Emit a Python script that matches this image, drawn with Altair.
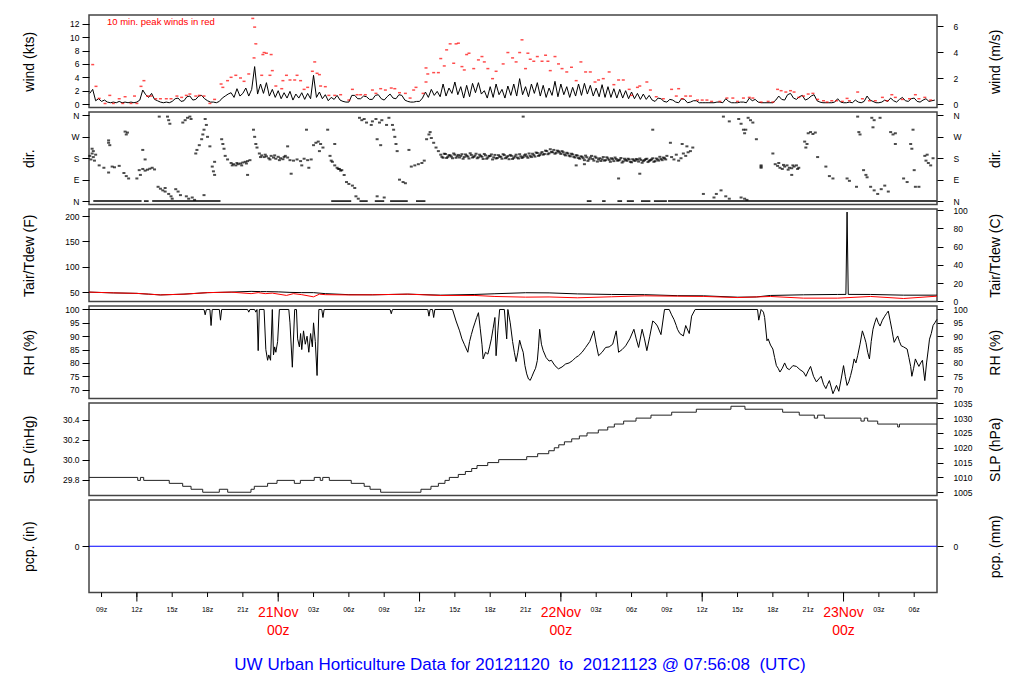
import altair as alt
import pandas as pd

FONT = "Liberation Sans"
# time axis: hours since 20 Nov 2012 00z; window ends 23 Nov 07:56:08 UTC
T_START = 7.9356
T_END = 79.9356
W = 848
H = 92.5

# ---------------- wind (kts), every 15 min from 08z 20 Nov ----------------
WIND_T0 = 8.0
WIND_DT = 0.25
wind_kts = [
    1.6, 2.2, 0.5, 0.8, 0.4, 0.6, 0.3, 0.2, 0.3, 0.2, 0.4, 0.2, 0.3, 0.2, 0.3, 0.2,   # 08-11
    0.3, 0.6, 2.1, 1.4, 1.0, 1.6, 0.7, 0.5, 0.3, 0.2, 0.3, 0.2, 0.4, 0.8, 0.9, 0.4,   # 12-15
    0.5, 1.1, 1.2, 0.6, 0.7, 1.2, 1.3, 0.8, 0.5, 0.3, 0.3, 0.2, 0.4, 0.9, 1.2, 1.5,   # 16-19
    1.7, 1.0, 2.3, 1.2, 1.6, 2.4, 1.2, 2.2, 5.6, 1.5, 3.0, 1.6, 3.2, 1.2, 2.2, 1.0,   # 20-23
    2.0, 0.8, 1.7, 0.9, 1.9, 0.6, 1.5, 0.9, 1.7, 0.7, 1.6, 0.8, 4.3, 1.0, 1.8, 0.8,   # 24-27
    1.4, 0.5, 1.0, 0.7, 1.3, 0.6, 0.4, 0.3, 0.3, 1.3, 1.3, 0.8, 0.8, 1.2, 1.1, 0.7,   # 28-31
    0.7, 1.3, 1.4, 0.8, 0.6, 1.1, 1.5, 0.9, 0.8, 1.4, 1.3, 0.6, 0.4, 0.3, 0.3, 0.4,   # 32-35
    0.4, 0.9, 1.8, 1.0, 2.2, 1.3, 1.9, 1.1, 3.0, 1.2, 2.4, 1.6, 3.3, 1.4, 2.6, 0.9,   # 36-39
    2.8, 1.1, 3.1, 1.7, 3.2, 1.5, 2.0, 0.9, 2.6, 1.0, 3.0, 1.4, 2.2, 0.9, 2.7, 1.3,   # 40-43
    3.0, 1.2, 3.8, 1.4, 2.6, 1.1, 3.0, 1.6, 3.2, 1.2, 2.8, 1.0, 2.4, 1.3, 3.4, 1.1,   # 44-47
    3.0, 1.4, 2.6, 1.0, 2.5, 1.2, 3.0, 1.3, 3.1, 1.5, 2.8, 1.2, 2.4, 1.1, 2.9, 1.0,   # 48-51
    2.6, 1.0, 2.3, 0.9, 2.2, 0.9, 2.0, 0.8, 1.8, 0.8, 1.6, 0.7, 1.5, 0.7, 1.3, 0.6,   # 52-55
    0.4, 0.9, 0.8, 0.4, 0.3, 0.7, 0.6, 0.3, 0.2, 0.8, 0.7, 0.2, 0.3, 0.5, 0.5, 0.2,   # 56-59
    0.2, 0.2, 0.2, 0.2, 0.2, 0.3, 0.3, 0.2, 0.8, 0.4, 0.2, 0.2, 0.2, 0.3, 0.3, 0.2,   # 60-63
    0.9, 0.5, 0.7, 0.3, 0.2, 0.2, 0.2, 0.2, 0.2, 0.6, 1.2, 0.7, 0.6, 1.4, 1.6, 0.9,   # 64-67
    0.7, 1.1, 1.3, 0.6, 0.8, 1.2, 1.4, 0.5, 0.3, 0.2, 0.2, 0.2, 0.2, 0.3, 0.8, 0.3,   # 68-71
    0.2, 0.2, 0.3, 0.2, 0.6, 0.3, 0.2, 0.4, 1.2, 0.6, 0.4, 0.2, 0.2, 0.3, 0.6, 0.4,   # 72-75
    0.9, 0.5, 0.3, 0.7, 1.0, 0.5, 0.4, 0.8, 0.9, 0.4, 0.3, 0.6, 0.8, 0.4, 0.5, 0.6]   # 76-79

# 10-minute peak winds (hour, kts)
peak_pts = [
    (8.25, 5.9), (8.53, 2.65), (8.8, 0.85), (9.3, 0.1), (9.7, 1.3), (10.0, 0.1), (10.5, 0.8),
    (10.8, 0.1), (11.0, 1.1), (11.5, 0.1), (11.8, 1.2), (12.0, 0.1), (12.35, 2.65), (12.6, 3.5),
    (12.9, 1.2), (13.2, 1.2), (13.6, 0.8), (14.0, 0.8), (14.5, 0.8), (14.9, 0.8), (15.4, 1.2),
    (15.8, 1.0), (16.2, 1.3), (16.5, 1.5), (17.0, 1.2), (17.3, 1.3), (17.7, 1.2), (18.2, 0.1),
    (18.6, 0.7), (19.15, 3.0), (19.3, 2.5), (19.7, 3.5), (20.0, 4.0), (20.4, 4.3), (20.8, 3.9),
    (21.1, 3.4), (21.5, 4.5), (21.84, 12.8), (22.0, 11.5), (22.1, 9.0), (21.95, 6.9), (22.7, 7.4),
    (22.8, 7.7), (23.0, 7.6), (23.4, 7.4), (22.6, 4.3), (23.3, 4.3), (23.5, 5.0), (23.8, 2.7),
    (24.3, 2.3), (24.4, 3.5), (24.7, 4.3), (25.0, 3.6), (25.4, 3.6), (25.6, 4.3), (25.9, 3.5),
    (26.2, 2.2), (26.5, 2.5), (26.9, 4.9), (27.1, 6.3), (27.3, 4.6), (27.5, 4.4), (27.6, 2.7),
    (28.0, 2.6), (28.3, 1.3), (28.8, 1.3), (29.3, 1.4), (30.0, 0.6), (30.3, 2.2), (30.7, 1.4),
    (31.0, 1.4), (31.4, 1.4), (32.0, 2.1), (32.3, 1.6), (32.7, 2.3), (33.1, 2.1), (33.6, 2.4),
    (33.9, 2.3), (34.3, 1.7), (34.8, 1.6), (35.2, 0.9), (35.5, 2.1), (35.7, 2.5), (36.3, 1.6),
    (36.55, 5.4), (36.55, 3.3), (36.7, 4.5), (37.2, 4.7), (37.6, 4.7), (37.8, 6.8), (38.1, 5.7),
    (38.3, 8.1), (38.6, 9.0), (38.9, 6.1), (39.1, 9.0), (39.3, 9.1), (39.6, 5.6), (39.8, 5.1),
    (40.0, 7.4), (40.2, 7.6), (40.6, 5.3), (41.0, 6.6), (41.3, 7.1), (41.5, 6.3), (41.8, 5.3),
    (42.2, 3.8), (42.5, 4.9), (43.1, 6.0), (43.5, 7.7), (43.9, 6.9), (44.2, 6.3), (44.5, 7.7),
    (44.7, 9.6), (45.0, 5.3), (45.2, 7.6), (45.4, 6.7), (45.7, 6.4), (46.0, 7.1), (46.4, 6.4),
    (46.7, 7.3), (46.9, 6.4), (47.1, 5.0), (47.5, 7.1), (47.8, 6.0), (48.1, 5.3), (48.5, 4.8),
    (48.9, 5.5), (49.3, 3.5), (49.7, 6.3), (50.1, 4.8), (50.5, 4.8), (50.9, 3.3), (51.2, 3.6),
    (51.6, 3.8), (52.1, 4.8), (52.5, 2.9), (52.9, 3.6), (53.3, 3.6), (53.8, 2.2), (54.0, 1.3),
    (54.5, 2.5), (54.7, 2.7), (55.3, 3.3), (55.6, 2.1), (56.1, 1.1), (56.7, 0.8), (57.4, 2.2),
    (57.8, 1.2), (58.0, 2.3), (58.3, 0.8), (58.6, 1.2), (59.0, 1.2), (59.6, 0.6), (60.0, 0.6),
    (60.4, 0.6), (60.8, 0.4), (61.5, 0.4), (62.1, 0.9), (62.6, 0.9), (63.0, 0.4), (63.5, 0.9),
    (64.0, 1.0), (64.3, 0.9), (65.0, 0.3), (65.6, 0.4), (66.0, 0.3), (66.4, 2.2), (66.7, 2.0),
    (67.1, 1.8), (67.5, 2.0), (67.8, 1.8), (68.2, 1.0), (68.6, 1.2), (69.0, 1.5), (69.4, 1.6),
    (69.8, 0.7), (70.3, 0.5), (70.6, 0.3), (71.0, 0.5), (71.4, 0.5), (71.9, 0.4), (72.3, 0.85),
    (72.5, 0.5), (73.2, 1.8), (73.6, 0.8), (74.2, 0.5), (74.7, 0.5), (75.3, 1.0), (75.7, 0.5),
    (76.1, 1.4), (76.4, 1.0), (77.0, 0.7), (77.6, 0.8), (78.1, 1.4), (78.4, 0.8), (78.9, 1.0),
    (79.4, 0.6)]

# ---------------- wind direction (hour, degrees) ----------------
dir_pts = [
    (8.0, 190), (8.1, 175), (8.2, 200), (8.3, 185), (8.4, 170), (8.5, 195), (8.3, 210), (8.2, 220),
    (8.8, 150), (9.2, 140), (9.6, 120), (9.6, 255), (9.6, 245), (9.7, 235), (9.9, 145), (10.1, 142),
    (10.5, 148), (10.9, 118), (11.1, 105), (11.3, 95), (11.0, 292), (11.2, 288), (11.1, 280),
    (12.0, 95), (12.2, 130), (12.5, 135), (12.7, 128), (12.9, 132), (13.1, 136), (13.3, 140),
    (13.5, 133), (12.5, 215), (12.7, 175), (12.3, 110), (13.8, 60), (14.0, 52), (14.2, 45),
    (14.4, 40), (14.4, 55), (14.7, 30), (14.9, 20), (15.0, 10), (14.6, 355), (14.7, 340),
    (14.8, 325), (13.9, 355), (15.3, 50), (15.5, 40), (15.7, 25), (15.9, 330), (16.1, 340),
    (16.3, 350), (16.5, 355), (16.6, 345), (16.2, 20), (16.4, 10), (16.7, 15), (16.9, 5),
    (17.0, 200), (17.1, 215), (17.3, 235), (17.5, 260), (17.6, 280), (17.7, 300), (17.9, 320),
    (17.8, 345), (18.0, 270), (18.2, 230), (17.7, 25), (18.4, 145), (18.5, 125), (18.6, 110),
    (18.6, 165), (19.2, 260), (19.3, 240), (19.4, 220), (19.5, 190), (19.7, 175), (20.0, 160),
    (20.2, 155), (20.4, 150), (20.6, 155), (20.8, 158), (21.0, 162), (21.2, 165), (21.4, 168),
    (21.6, 172), (20.1, 150), (20.5, 160), (20.9, 150), (21.3, 158), (21.4, 110), (21.9, 300),
    (22.0, 270), (22.1, 240), (22.2, 225), (22.4, 200), (22.6, 192), (22.8, 185), (23.0, 188),
    (23.2, 180), (23.4, 190), (23.6, 183), (23.8, 178), (24.0, 186), (24.2, 180), (24.4, 176),
    (24.6, 190), (24.8, 183), (22.5, 185), (22.9, 195), (23.3, 175), (23.7, 192), (24.1, 172),
    (24.5, 185), (24.8, 230), (25.0, 172), (25.3, 170), (25.6, 175), (25.9, 168), (26.2, 178),
    (26.5, 172), (26.8, 175), (25.1, 115), (26.0, 150), (26.6, 140), (26.4, 300), (27.0, 235),
    (27.2, 245), (27.4, 250), (27.6, 240), (27.8, 225), (27.5, 210), (28.2, 300), (28.4, 190),
    (28.5, 170), (28.8, 150), (29.0, 140), (29.2, 135), (29.4, 130), (29.6, 110), (28.6, 165),
    (28.8, 240), (29.1, 135), (29.3, 128), (29.8, 80), (30.0, 72), (30.3, 65), (30.5, 55),
    (30.6, 20), (30.8, 10), (30.9, 350), (31.1, 340), (31.3, 345), (31.5, 330), (31.9, 320),
    (32.0, 335), (32.3, 345), (32.6, 330), (32.8, 340), (33.2, 320), (33.4, 350), (32.4, 260),
    (32.7, 235), (32.4, 20), (33.0, 15), (33.7, 320), (33.8, 300), (33.9, 270), (34.0, 240),
    (34.1, 210), (34.3, 90), (34.6, 80), (34.8, 75), (35.1, 215), (35.3, 145), (35.6, 150),
    (35.9, 155), (36.2, 160), (36.4, 170), (36.6, 260), (36.8, 280), (37.0, 265), (37.2, 245),
    (37.4, 225), (37.6, 210), (36.9, 290), (44.8, 355), (49.3, 150), (50.0, 155), (52.9, 95),
    (54.7, 115), (55.8, 300), (57.3, 245), (57.4, 185), (57.6, 175), (57.8, 195), (58.0, 170),
    (58.2, 180), (58.4, 200), (58.6, 190), (58.8, 205), (59.0, 210), (58.3, 240), (58.7, 230),
    (59.2, 225), (60.1, 30), (61.0, 15), (61.2, 30), (61.6, 45), (62.0, 20), (62.3, 10),
    (61.8, 355), (62.3, 335), (63.1, 345), (63.3, 325), (63.5, 300), (63.6, 285), (63.9, 350),
    (64.1, 340), (64.3, 330), (63.7, 300), (63.3, 15), (63.6, 10), (63.8, 5), (64.6, 260),
    (65.0, 150), (65.0, 145), (65.0, 140), (66.0, 200), (66.2, 155), (66.4, 148), (66.6, 140),
    (66.8, 135), (67.0, 145), (67.2, 150), (67.4, 140), (67.6, 138), (67.8, 145), (68.0, 150),
    (68.2, 140), (66.5, 160), (66.9, 152), (67.3, 132), (67.7, 150), (68.1, 135), (67.6, 110),
    (68.7, 250), (68.9, 240), (68.8, 225), (69.0, 285), (69.2, 290), (69.4, 282), (69.6, 288),
    (69.8, 185), (70.5, 145), (70.8, 105), (71.1, 95), (72.3, 95), (72.5, 85), (73.1, 60),
    (73.2, 355), (73.3, 290), (73.4, 280), (73.7, 130), (73.9, 110), (74.0, 100), (74.4, 350),
    (74.6, 340), (75.1, 350), (74.5, 310), (74.3, 60), (74.6, 45), (74.9, 30), (75.2, 50),
    (75.5, 65), (75.8, 40), (76.0, 290), (76.2, 280), (76.4, 285), (76.4, 240), (77.1, 95),
    (77.4, 80), (77.7, 240), (77.8, 220), (77.9, 300), (78.0, 130), (78.1, 60), (78.4, 60),
    (78.9, 190), (79.0, 170), (79.2, 160), (79.4, 150), (79.6, 180), (79.1, 195)]

# steady southerly band: two interleaved 12-minute series starting 37.8 h and 37.9 h
BAND_T0 = 37.8
BAND2_T0 = 37.9
BAND_DT = 0.2
dir_band = [195, 182, 198, 186, 192, 180, 195, 188, 183, 197, 185, 191, 179, 194, 186, 199, 184,
            190, 177, 192, 183, 189, 175, 194, 181, 187, 178, 193, 184, 176, 190, 182, 195, 179,
            188, 185, 196, 182, 190, 199, 187, 202, 193, 206, 198, 210, 201, 207, 215, 203, 209,
            198, 205, 192, 200, 188, 196, 183, 191, 178, 186, 172, 184, 176, 190, 170, 182, 175,
            168, 185, 172, 179, 165, 176, 183, 170, 174, 162, 178, 169, 175, 163, 171, 177, 166,
            173, 168, 176, 164, 172, 180, 168, 175, 186, 172, 180, 190]
dir_band2 = [186, 199, 181, 193, 187, 200, 182, 194, 190, 178, 196, 187, 201, 183, 191, 180, 195,
             186, 198, 178, 190, 196, 184, 179, 193, 186, 197, 180, 189, 194, 177, 188, 183, 197,
             181, 192, 188, 200, 185, 193, 204, 190, 200, 195, 212, 197, 218, 205, 199, 212, 204,
             210, 196, 203, 191, 199, 186, 193, 181, 188, 180, 191, 169, 183, 177, 187, 166, 180,
             176, 170, 184, 173, 180, 168, 177, 171, 181, 167, 173, 178, 165, 176, 169, 174, 179,
             161, 172, 178, 169, 175, 165, 179, 170, 177, 183, 175]

# calm periods (direction reported as N): start / end hour
calm_start = [8.3, 12.6, 13.3, 28.5, 30.9, 32.2, 33.5, 35.7, 50.2, 51.5, 52.8, 53.6, 54.8, 55.9, 57.1]
calm_end = [12.4, 13.0, 19.1, 30.2, 31.6, 33.0, 35.0, 36.5, 50.6, 51.8, 53.2, 54.2, 55.6, 57.0, 79.9]

# ---------------- temperature / dew point (F) ----------------
tair_pts = [(7.94, 50), (10, 48.5), (12, 47.5), (13, 46), (14, 44.5), (16, 46), (18, 49), (20, 50),
            (21.7, 51.5), (22.5, 51), (23, 51), (24, 50.5), (25, 49.5), (26, 49), (27, 49), (28, 47),
            (30, 45), (32, 44.7), (35, 46), (37.8, 44), (40.7, 45.4), (42.4, 46.8), (45, 48.8),
            (47, 48.5), (49.4, 46.5), (52.3, 45.4), (55.1, 45), (57.9, 43), (60.1, 42.7), (63, 40),
            (64.6, 40.5), (65.8, 43.4), (68.6, 44.7), (71.5, 45.4), (72.2, 45.5), (72.3, 208),
            (72.4, 45.5), (74.3, 45.4), (77.1, 44), (79.93, 44)]
tdew_pts = [(7.94, 50), (10, 48.5), (12, 47.5), (13, 46), (14, 44.5), (16, 46), (18, 49), (20, 50),
            (21.7, 47), (22.3, 49), (22.9, 47), (23.5, 48), (24.7, 43.5), (25.3, 47), (26, 45),
            (27, 40.7), (27.5, 46), (28, 45), (30, 44.5), (32, 44.7), (35, 46), (37.8, 43.4),
            (40.7, 43.4), (42.4, 41.4), (45, 40.1), (47, 40.5), (49.4, 38.8), (52.3, 40.8),
            (55.1, 42.7), (57.9, 42), (60.1, 41.5), (63, 39.3), (64.6, 40.5), (65.8, 41.4),
            (68.6, 38.1), (71.5, 38.1), (74.3, 41.4), (77.1, 37.4), (79.93, 42)]

# ---------------- relative humidity (%) ----------------
rh_pts = [
    (7.94, 100), (17.7, 100), (17.8, 98), (17.9, 100), (18.2, 100), (18.3, 94), (18.4, 100),
    (19.0, 100), (19.1, 96), (19.2, 100), (21.4, 100), (21.5, 99), (21.6, 100), (22.0, 100),
    (22.1, 99), (22.2, 100), (22.3, 84.6), (22.4, 100), (22.8, 100), (22.95, 85), (23.1, 81),
    (23.2, 83), (23.35, 81), (23.5, 100), (23.6, 83), (23.7, 86), (23.8, 84), (23.95, 88),
    (24.1, 100), (24.9, 100), (25.0, 95), (25.2, 78.4), (25.4, 100), (25.55, 100), (25.65, 89),
    (25.8, 86), (25.9, 91), (26.0, 85), (26.15, 92), (26.3, 87), (26.45, 90), (26.6, 84),
    (26.75, 91), (26.9, 86), (27.0, 95), (27.15, 88), (27.3, 75.3), (27.45, 100), (27.7, 100),
    (27.8, 97), (27.9, 100), (33.5, 100), (33.6, 98.4), (33.7, 100), (36.7, 100), (36.8, 97.5),
    (36.9, 100), (37.1, 100), (37.2, 97), (37.3, 100), (38.8, 100), (39.1, 95.7), (39.4, 92),
    (39.6, 89), (39.8, 87), (40.1, 84), (40.25, 88), (40.4, 90.6), (40.55, 93), (40.7, 95),
    (40.85, 97), (41.0, 98.8), (41.15, 93), (41.3, 87), (41.4, 81.5), (41.6, 84), (41.8, 83.3),
    (41.95, 86), (42.1, 89), (42.25, 93), (42.4, 97), (42.5, 82.7), (42.65, 92), (42.8, 100),
    (43.2, 100), (43.4, 89), (43.5, 100), (43.7, 95), (43.9, 88), (44.05, 84), (44.2, 80.5),
    (44.35, 84), (44.5, 88.5), (44.65, 86), (44.8, 84), (44.95, 79), (45.1, 75.9), (45.25, 74),
    (45.4, 73.5), (45.55, 75), (45.7, 76.6), (45.85, 78), (46.0, 80.9), (46.1, 86), (46.2, 92.6),
    (46.35, 87), (46.5, 84.6), (46.75, 82), (47.0, 80.7), (47.2, 81), (47.4, 79.6), (47.6, 78.5),
    (47.8, 77.8), (48.1, 78.5), (48.4, 79.6), (48.7, 80), (49.0, 80.9), (49.25, 82), (49.5, 82.7),
    (49.8, 84), (50.1, 85.8), (50.45, 88), (50.8, 92), (51.0, 87), (51.2, 82.7), (51.5, 84),
    (51.8, 85.8), (52.1, 86), (52.4, 87), (52.7, 92), (52.9, 84), (53.2, 85), (53.5, 86.4),
    (53.85, 89), (54.2, 92.6), (54.4, 89), (54.6, 85.8), (54.9, 92.6), (55.1, 89), (55.3, 84.6),
    (55.55, 90), (55.8, 95.7), (56.0, 95), (56.2, 93.8), (56.5, 90.6), (56.8, 100), (57.2, 100),
    (57.4, 98), (57.6, 96.3), (57.8, 94), (57.9, 92.6), (58.1, 91), (58.4, 90.1), (58.6, 94),
    (58.9, 91), (59.1, 97.5), (59.4, 100), (64.7, 100), (64.8, 96), (65.0, 100), (65.2, 99),
    (65.3, 97), (65.5, 88.3), (65.6, 89), (65.8, 86.7), (66.0, 85.2), (66.15, 82), (66.3, 79),
    (66.45, 78), (66.6, 76.6), (66.8, 78), (67.0, 80), (67.2, 78), (67.4, 77.5), (67.7, 79),
    (68.0, 78.7), (68.3, 77.5), (68.6, 76.6), (68.8, 75), (69.0, 77), (69.2, 78.7), (69.45, 75),
    (69.7, 72.9), (69.9, 74), (70.1, 75), (70.3, 72), (70.5, 70.4), (70.65, 72), (70.8, 73.4),
    (70.95, 71), (71.1, 68.5), (71.25, 70), (71.4, 71.6), (71.6, 69.4), (71.8, 74), (72.0, 79),
    (72.15, 75), (72.3, 71.6), (72.45, 73), (72.6, 75.3), (72.75, 78), (72.9, 81.5), (73.05, 80),
    (73.2, 82.7), (73.4, 87), (73.6, 92), (73.75, 90), (73.9, 87.7), (74.05, 84), (74.2, 81.5),
    (74.35, 88), (74.5, 92.6), (74.65, 95), (74.8, 96.9), (74.95, 95), (75.1, 93.8), (75.3, 96),
    (75.5, 97.5), (75.65, 98.5), (75.8, 99.4), (75.95, 96), (76.1, 92.6), (76.2, 90), (76.3, 87.7),
    (76.45, 89), (76.6, 90.1), (76.75, 88), (76.9, 86.4), (77.1, 86), (77.4, 85.2), (77.55, 82),
    (77.7, 78.7), (77.8, 75), (77.95, 78), (78.1, 81.5), (78.25, 80), (78.4, 78.7), (78.55, 80),
    (78.7, 81), (78.8, 77), (78.9, 73.4), (79.05, 80), (79.2, 85.2), (79.3, 88.9), (79.45, 91),
    (79.6, 94), (79.75, 95), (79.93, 96.3)]

# ---------------- sea level pressure (hPa), value from each change time ----------------
slp_pts = [
    (7.94, 1010), (12.07, 1009), (12.30, 1010), (12.58, 1009), (14.75, 1008), (15.89, 1007),
    (16.60, 1006), (17.59, 1005), (19.00, 1006), (19.71, 1005), (21.69, 1006), (21.97, 1007),
    (23.10, 1008), (23.90, 1009), (25.37, 1008), (25.88, 1009), (27.06, 1010), (27.57, 1009),
    (27.78, 1010), (28.34, 1009), (30.20, 1008), (31.30, 1007), (31.80, 1006), (32.70, 1005),
    (36.12, 1006), (36.97, 1007), (37.60, 1008), (38.16, 1009), (38.53, 1010), (39.29, 1011),
    (39.89, 1012), (40.43, 1013), (40.88, 1014), (41.79, 1015), (42.72, 1016), (45.10, 1017),
    (46.03, 1018), (46.97, 1019), (47.44, 1020), (47.82, 1021), (48.30, 1022), (48.92, 1023),
    (49.57, 1024), (50.22, 1025), (51.18, 1026), (51.98, 1027), (52.54, 1028), (53.33, 1029),
    (54.38, 1030), (55.65, 1031), (57.41, 1032), (59.50, 1033), (62.44, 1034), (63.63, 1033),
    (66.83, 1032), (68.24, 1031), (69.52, 1030), (69.80, 1031), (70.37, 1030), (73.48, 1029),
    (73.76, 1030), (74.05, 1029), (74.90, 1028), (76.60, 1027), (76.75, 1028), (79.93, 1028)]

# ---------------- precipitation ----------------
pcp_t = [7.94, 79.93]
pcp_in = [0.0, 0.0]

# ---------------- axis text ----------------
tick_hours = [9, 12, 15, 18, 21, 24, 27, 30, 33, 36, 39, 42, 45, 48, 51, 54, 57, 60, 63, 66, 69, 72, 75, 78]
long_tick_hours = [12, 24, 36, 48, 60, 72]
hour_label_t = [9, 12, 15, 18, 21, 27, 30, 33, 36, 39, 42, 45, 51, 54, 57, 60, 63, 66, 69, 75, 78]
hour_label_text = ["09z", "12z", "15z", "18z", "21z", "03z", "06z", "09z", "12z", "15z", "18z", "21z",
                   "03z", "06z", "09z", "12z", "15z", "18z", "21z", "03z", "06z"]
day_t = [24, 48, 72]
day_text = ["21Nov", "22Nov", "23Nov"]
day_hour_text = ["00z", "00z", "00z"]
NOTE = "10 min. peak winds in red"
TITLE = "UW Urban Horticulture Data for 20121120\u00a0\u00a0to\u00a0\u00a020121123 @ 07:56:08\u00a0\u00a0(UTC)"

KTS_TO_MS = 0.514444
HPA_PER_INHG = 33.8639

# ---------------- frames ----------------
wind_df = pd.DataFrame({"t": [WIND_T0 + WIND_DT * i for i in range(len(wind_kts))], "v": wind_kts})
peak_df = pd.DataFrame(peak_pts, columns=["t", "v"])
dir_df = pd.concat([
    pd.DataFrame(dir_pts, columns=["t", "v"]),
    pd.DataFrame({"t": [BAND_T0 + BAND_DT * i for i in range(len(dir_band))], "v": dir_band}),
    pd.DataFrame({"t": [BAND2_T0 + BAND_DT * i for i in range(len(dir_band2))], "v": dir_band2}),
])
calm_df = pd.DataFrame({"t": calm_start, "t2": calm_end, "v": [0] * len(calm_start)})
tair_df = pd.DataFrame(tair_pts, columns=["t", "v"])
tdew_df = pd.DataFrame(tdew_pts, columns=["t", "v"])
rh_df = pd.DataFrame(rh_pts, columns=["t", "v"])
slp_df = pd.DataFrame(slp_pts, columns=["t", "v"])
pcp_df = pd.DataFrame({"t": pcp_t, "v": pcp_in})
tick_df = pd.DataFrame({"t": tick_hours})
long_df = pd.DataFrame({"t": long_tick_hours})
hl_df = pd.DataFrame({"t": hour_label_t, "lab": hour_label_text})
day_df = pd.DataFrame({"t": day_t, "day": day_text, "hr": day_hour_text})
note_df = pd.DataFrame({"lab": [NOTE]})
title_df = pd.DataFrame({"lab": [TITLE]})

X = alt.X("t:Q", scale=alt.Scale(domain=[T_START, T_END], nice=False, zero=False), axis=None)


def yaxis(orient, title, values, label_expr=None):
    left = orient == "left"
    kw = dict(orient=orient, title=title, values=values,
              titleX=-60 if left else 58, titleY=H / 2, titleAngle=270,
              titleAlign="center", titleBaseline="middle", titleFont=FONT, titleFontSize=14,
              titleFontWeight="normal", titleColor="black",
              labelFont=FONT, labelFontSize=8.5, labelColor="black",
              labelPadding=3 if left else 10, tickSize=7 if left else 6,
              tickColor="black", tickWidth=1, domain=False, grid=False,
              labelOverlap=False, labelFlush=False)
    if label_expr:
        kw["labelExpr"] = label_expr
    return alt.Axis(**kw)


def Y(scale_domain, axis):
    return alt.Y("v:Q", scale=alt.Scale(domain=scale_domain, nice=False, zero=False), axis=axis)


def hidden_twin(df, dom, axis):
    return alt.Chart(df).mark_line(opacity=0).encode(x=X, y=Y(dom, axis))


# wind
WIND_DOM = [-0.51, 13.31]
ms_vals = [v / KTS_TO_MS for v in [0, 2, 4, 6]]
wind_panel = alt.layer(
    alt.Chart(wind_df).mark_line(color="black", strokeWidth=1).encode(
        x=X, y=Y(WIND_DOM, yaxis("left", "wind (kts)", [0, 2, 4, 6, 8, 10, 12]))),
    alt.Chart(peak_df).mark_tick(color="#ff0000", orient="horizontal", size=3, thickness=1.5).encode(
        x=X, y=Y(WIND_DOM, yaxis("right", "wind (m/s)", ms_vals,
                                 f"format(datum.value*{KTS_TO_MS}, '.0f')"))),
    alt.Chart(note_df).mark_text(color="#ff0000", font=FONT, fontSize=9.5, align="left",
                                 baseline="middle").encode(
        x=alt.value(18), y=alt.value(7), text="lab:N"),
).resolve_scale(y="independent").properties(width=W, height=H)

# direction
DIR_DOM = [-14.4, 374.4]
dir_expr = "['N','E','S','W','N'][round(datum.value/90)]"
dir_panel = alt.layer(
    alt.Chart(calm_df).mark_rule(color="black", strokeWidth=1.5).encode(
        x=X, x2="t2:Q", y=Y(DIR_DOM, yaxis("left", "dir.", [0, 90, 180, 270, 360], dir_expr))),
    alt.Chart(dir_df).mark_tick(color="black", orient="horizontal", size=3, thickness=2).encode(
        x=X, y=Y(DIR_DOM, yaxis("right", "dir.", [0, 90, 180, 270, 360], dir_expr))),
).resolve_scale(y="independent").properties(width=W, height=H)

# temperature
T_DOM = [31.5, 214]
c_vals = [c * 1.8 + 32 for c in [0, 20, 40, 60, 80, 100]]
temp_panel = alt.layer(
    alt.Chart(tair_df).mark_line(color="black", strokeWidth=1).encode(
        x=X, y=Y(T_DOM, yaxis("left", "Tair/Tdew (F)", [50, 100, 150, 200]))),
    alt.Chart(tdew_df).mark_line(color="#ff0000", strokeWidth=1).encode(
        x=X, y=Y(T_DOM, yaxis("right", "Tair/Tdew (C)", c_vals,
                              "format((datum.value-32)/1.8, '.0f')"))),
).resolve_scale(y="independent").properties(width=W, height=H)

# RH
RH_DOM = [66.7, 101.3]
rh_vals = [70, 75, 80, 85, 90, 95, 100]
rh_panel = alt.layer(
    alt.Chart(rh_df).mark_line(color="black", strokeWidth=1).encode(
        x=X, y=Y(RH_DOM, yaxis("left", "RH (%)", rh_vals))),
    hidden_twin(rh_df, RH_DOM, yaxis("right", "RH (%)", rh_vals)),
).resolve_scale(y="independent").properties(width=W, height=H)

# SLP
SLP_DOM = [1003.9, 1035.1]
inhg_vals = [v * HPA_PER_INHG for v in [29.8, 30.0, 30.2, 30.4]]
slp_panel = alt.layer(
    alt.Chart(slp_df).mark_line(color="#222222", strokeWidth=1, interpolate="step-after").encode(
        x=X, y=Y(SLP_DOM, yaxis("left", "SLP (inHg)", inhg_vals,
                                f"format(datum.value/{HPA_PER_INHG}, '.1f')"))),
    hidden_twin(slp_df, SLP_DOM, yaxis("right", "SLP (hPa)", [1005, 1010, 1015, 1020, 1025, 1030, 1035],
                                       "format(datum.value, 'd')")),
).resolve_scale(y="independent").properties(width=W, height=H)

# precipitation + time axis
P_DOM = [-1, 1]
pcp_panel = alt.layer(
    alt.Chart(pcp_df).mark_line(color="#0000ff", strokeWidth=1).encode(
        x=X, y=Y(P_DOM, yaxis("left", "pcp. (in)", [0]))),
    hidden_twin(pcp_df, P_DOM, yaxis("right", "pcp. (mm)", [0])),
    alt.Chart(tick_df).mark_rule(color="black", strokeWidth=1).encode(
        x=X, y=alt.value(H), y2=alt.value(H + 4.5)),
    alt.Chart(long_df).mark_rule(color="black", strokeWidth=1).encode(
        x=X, y=alt.value(H), y2=alt.value(H + 9)),
    alt.Chart(hl_df).mark_text(font=FONT, fontSize=7, color="black", baseline="middle").encode(
        x=X, y=alt.value(H + 17), text="lab:N"),
    alt.Chart(day_df).mark_text(font=FONT, fontSize=14, color="#ff0000", baseline="middle").encode(
        x=X, y=alt.value(H + 20.5), text="day:N"),
    alt.Chart(day_df).mark_text(font=FONT, fontSize=14, color="#ff0000", baseline="middle").encode(
        x=X, y=alt.value(H + 38), text="hr:N"),
    alt.Chart(title_df).mark_text(font=FONT, fontSize=17, color="#0000ff", baseline="middle").encode(
        x=alt.value(431), y=alt.value(H + 72), text="lab:N"),
).resolve_scale(y="independent").properties(width=W, height=H)

chart = alt.vconcat(wind_panel, dir_panel, temp_panel, rh_panel, slp_panel, pcp_panel,
                    spacing=4, bounds="flush").properties(
    padding={"left": 13, "top": 6, "right": 5, "bottom": 5},
    background="white",
).configure_view(stroke="#444444", strokeWidth=1.5)

chart.save("out.html", embed_options={"renderer": "svg", "actions": False})
